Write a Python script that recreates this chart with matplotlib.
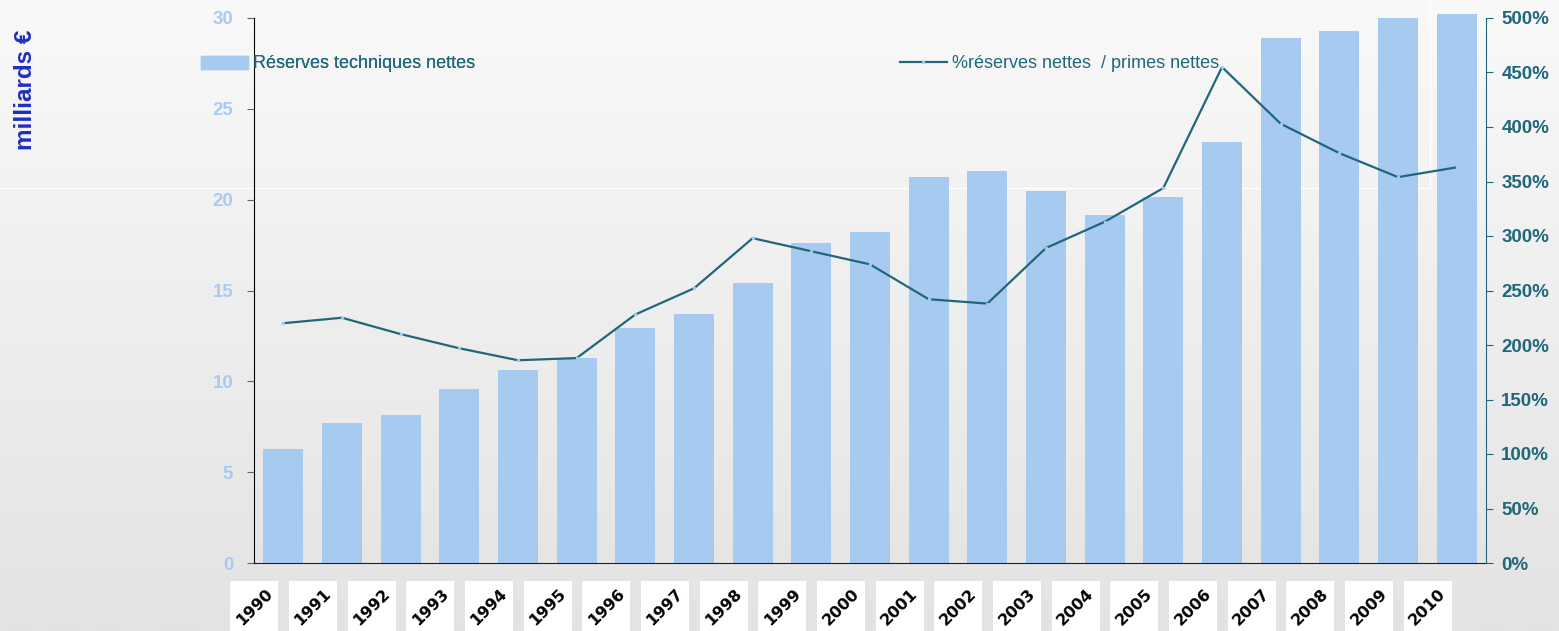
import numpy as np
import matplotlib
matplotlib.use('Agg')
import matplotlib.pyplot as plt
from matplotlib.lines import Line2D
from matplotlib.patches import Patch, Rectangle
from matplotlib.transforms import ScaledTranslation

plt.rcParams['font.family'] = ['Liberation Sans', 'DejaVu Sans']

# Données
annees = [str(a) for a in range(1990, 2011)]
reserves = [6.3, 7.7, 8.15, 9.6, 10.6, 11.3, 12.95, 13.7, 15.4, 17.6, 18.2,
            21.25, 21.6, 20.5, 19.15, 20.15, 23.2, 28.9, 29.3, 30.0, 30.2]
ratio = [220, 225, 210, 197, 186, 188, 228, 252, 298, 286, 274,
         242, 238, 289, 313, 344, 455, 403, 376, 354, 363]

BLEU_BARRE = '#a7caf0'
TEAL = '#20677a'
BLEU_TICK = '#a9cbf2'

W, H = 1559, 631
fig = plt.figure(figsize=(W / 100, H / 100), dpi=100)

# Fond dégradé
bg = fig.add_axes([0, 0, 1, 1], zorder=-10)
grad = np.linspace(0, 1, 256).reshape(-1, 1)
bg.imshow(grad, aspect='auto', cmap=matplotlib.colors.LinearSegmentedColormap.from_list(
    'g', ['#f9f9f9', '#e3e3e3']), extent=[0, 1, 0, 1], origin='upper')
bg.axis('off')
bg.plot([0, 1430 / W], [1 - 188 / H, 1 - 188 / H], color='white', lw=1)
bg.plot([1430 / W, 1430 / W], [1 - 188 / H, 1], color='white', lw=1)
bg.set_xlim(0, 1)
bg.set_ylim(0, 1)

ax = fig.add_axes([254 / W, 68 / H, (1486 - 254) / W, (563 - 18) / H])
ax.set_facecolor('none')
x = np.arange(len(annees))
ax.bar(x, reserves, width=0.68, color=BLEU_BARRE, clip_on=False, zorder=2)
ax.set_xlim(-0.5, 20.5)
ax.set_ylim(0, 30)
ax.set_yticks(range(0, 31, 5))
ax.tick_params(axis='y', colors='#666666', length=5, labelcolor=BLEU_TICK,
               labelsize=13.5, pad=10)
for t in ax.get_yticklabels():
    t.set_fontweight('bold')
ax.spines['top'].set_visible(False)
ax.spines['right'].set_visible(False)
ax.spines['left'].set_color('black')
ax.spines['bottom'].set_color('#222222')

ax.set_xticks(x)
ax.set_xticklabels(annees, rotation=45, ha='center', va='center',
                   fontsize=11.5, fontweight='bold', family='DejaVu Sans')
ax.tick_params(axis='x', length=0, pad=32)
for t in ax.get_xticklabels():
    t.set_transform(t.get_transform() + ScaledTranslation(-0.29, 0, fig.dpi_scale_trans))

ax2 = ax.twinx()
ax2.plot(x, ratio, color=TEAL, lw=1.6, marker='o', ms=2.5, mfc=BLEU_BARRE,
         mec='none', zorder=3)
ax2.set_ylim(0, 500)
ax2.set_yticks(range(0, 501, 50))
ax2.set_yticklabels([f'{v}%' for v in range(0, 501, 50)])
ax2.tick_params(axis='y', colors=TEAL, length=5, labelsize=13.5, pad=6)
for t in ax2.get_yticklabels():
    t.set_fontweight('bold')
for s in ['top', 'left', 'bottom']:
    ax2.spines[s].set_visible(False)
ax2.spines['right'].set_color(TEAL)

fig.text(26 / W, 1 - 90 / H, 'milliards €', rotation=90, ha='center',
         va='center', fontsize=17.5, fontweight='bold', color='#1f2fbf')

leg1 = fig.legend(handles=[Patch(color=BLEU_BARRE)], labels=['Réserves techniques nettes'],
                  loc='center left', bbox_to_anchor=(201 / W, 1 - 64 / H),
                  frameon=False, fontsize=13, handlelength=2.6, handleheight=0.7,
                  handletextpad=0.3, borderpad=0, borderaxespad=0, labelcolor=TEAL)
leg2 = fig.legend(handles=[Line2D([], [], color=TEAL, lw=1.6, marker='o', ms=2.5,
                                  mfc=BLEU_BARRE, mec='none')],
                  labels=['%réserves nettes  / primes nettes'],
                  loc='center left', bbox_to_anchor=(900 / W, 1 - 64 / H),
                  frameon=False, fontsize=13, handlelength=2.6,
                  handletextpad=0.3, borderpad=0, borderaxespad=0, labelcolor=TEAL)
fig.add_artist(leg1)

# Cadres blancs (non tournés) derrière les années
fig.canvas.draw()
for t in ax.get_xticklabels():
    bb = t.get_window_extent()
    cx, cy = (bb.x0 + bb.x1) / 2, (bb.y0 + bb.y1) / 2
    bw, bh = 48, 52
    fig.add_artist(Rectangle(((cx - bw / 2) / W, (cy - bh / 2) / H), bw / W, bh / H,
                             transform=fig.transFigure, fc='white', ec='none', zorder=-5))

fig.savefig('out.png', dpi=100)
